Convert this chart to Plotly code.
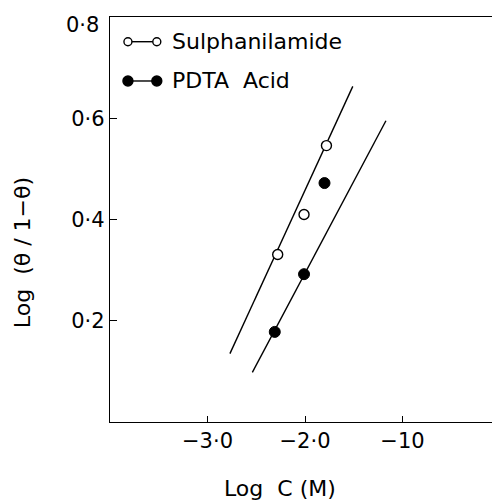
import plotly.graph_objects as go

# Data
sul_x = [-2.28, -2.01, -1.78]
sul_y = [0.331, 0.410, 0.546]
pdta_x = [-2.31, -2.01, -1.80]
pdta_y = [0.178, 0.292, 0.472]

# fitted straight lines (end points)
sul_fit_x = [-2.77, -1.51]
sul_fit_y = [0.135, 0.663]
pdta_fit_x = [-2.54, -1.17]
pdta_fit_y = [0.098, 0.595]

x_ticks = [-3.0, -2.0, -1.0]
x_tick_text = ["\u22123\u00b70", "\u22122\u00b70", "\u221210"]
y_ticks = [0.2, 0.4, 0.6, 0.8]
y_tick_text = ["0\u00b72", "0\u00b74", "0\u00b76", "0\u00b78"]

series_names = ["Sulphanilamide", "PDTA  Acid"]
x_title = "Log  C (M)"
y_title = "Log  (\u03b8 / 1\u2212\u03b8)"

FONT = "DejaVu Sans"
fig = go.Figure()

fig.add_trace(go.Scatter(x=sul_fit_x, y=sul_fit_y, mode="lines",
                         line=dict(color="black", width=1.4), showlegend=False))
fig.add_trace(go.Scatter(x=pdta_fit_x, y=pdta_fit_y, mode="lines",
                         line=dict(color="black", width=1.4), showlegend=False))
fig.add_trace(go.Scatter(x=sul_x, y=sul_y, mode="markers", name=series_names[0],
                         marker=dict(symbol="circle", size=10, color="white",
                                     line=dict(color="black", width=1.4)),
                         showlegend=False))
fig.add_trace(go.Scatter(x=pdta_x, y=pdta_y, mode="markers", name=series_names[1],
                         marker=dict(symbol="circle", size=11, color="black",
                                     line=dict(color="black", width=1)),
                         showlegend=False))

# manual legend  o—o  / •—•
shapes = []
annotations = []
legend_rows = [(0.939, "white", 8), (0.842, "black", 10)]
lx0, lx1 = 0.046, 0.12
for (py, fill, d), name in zip(legend_rows, series_names):
    shapes.append(dict(type="line", xref="paper", yref="paper", x0=lx0, x1=lx1,
                       y0=py, y1=py, line=dict(color="black", width=1.4)))
    for px in (lx0, lx1):
        shapes.append(dict(type="circle", xref="paper", yref="paper",
                           xsizemode="pixel", ysizemode="pixel",
                           xanchor=px, yanchor=py,
                           x0=-d / 2, x1=d / 2, y0=-d / 2, y1=d / 2,
                           fillcolor=fill, line=dict(color="black", width=1.4)))
    annotations.append(dict(xref="paper", yref="paper", x=0.155, y=py, text=name,
                            showarrow=False, xanchor="left", yanchor="middle",
                            font=dict(family=FONT, size=22, color="black")))

# axis titles
annotations.append(dict(xref="paper", yref="paper", x=0.436, y=-0.163, text=x_title,
                        showarrow=False, xanchor="center", yanchor="middle",
                        font=dict(family=FONT, size=22, color="black")))
annotations.append(dict(xref="paper", yref="paper", x=-0.2256, y=0.417, text=y_title,
                        showarrow=False, xanchor="center", yanchor="middle",
                        textangle=-90,
                        font=dict(family=FONT, size=22, color="black")))
# top tick label sits a little below its tick in the original (and must stay inside the page)
annotations.append(dict(xref="paper", yref="paper", x=-0.022, y=0.98,
                        text=y_tick_text[-1], showarrow=False,
                        xanchor="right", yanchor="middle",
                        font=dict(family=FONT, size=21, color="black")))
y_tick_labels_on_axis = y_tick_text[:-1] + [""]

# margins compensate the page's default 8px body offset
fig.update_layout(
    width=500, height=503,
    margin=dict(l=102, r=8, t=9, b=89, autoexpand=False),
    paper_bgcolor="white", plot_bgcolor="white",
    font=dict(family=FONT, size=21, color="black"),
    shapes=shapes, annotations=annotations,
    showlegend=False,
)
fig.update_xaxes(range=[-4.0, 0.0], tickvals=x_ticks, ticktext=x_tick_text,
                 ticks="inside", ticklen=6, tickwidth=1, tickcolor="black",
                 showline=True, linecolor="black", linewidth=1.4, mirror=True,
                 showgrid=False, zeroline=False, automargin=False,
                 tickfont=dict(family=FONT, size=21))
fig.update_yaxes(range=[0.0, 0.8], tickvals=y_ticks, ticktext=y_tick_labels_on_axis,
                 ticks="inside", ticklen=7, tickwidth=1, tickcolor="black",
                 showline=True, linecolor="black", linewidth=1.4, mirror=False,
                 showgrid=False, zeroline=False, automargin=False,
                 tickfont=dict(family=FONT, size=21))

fig.write_html("out.html")
